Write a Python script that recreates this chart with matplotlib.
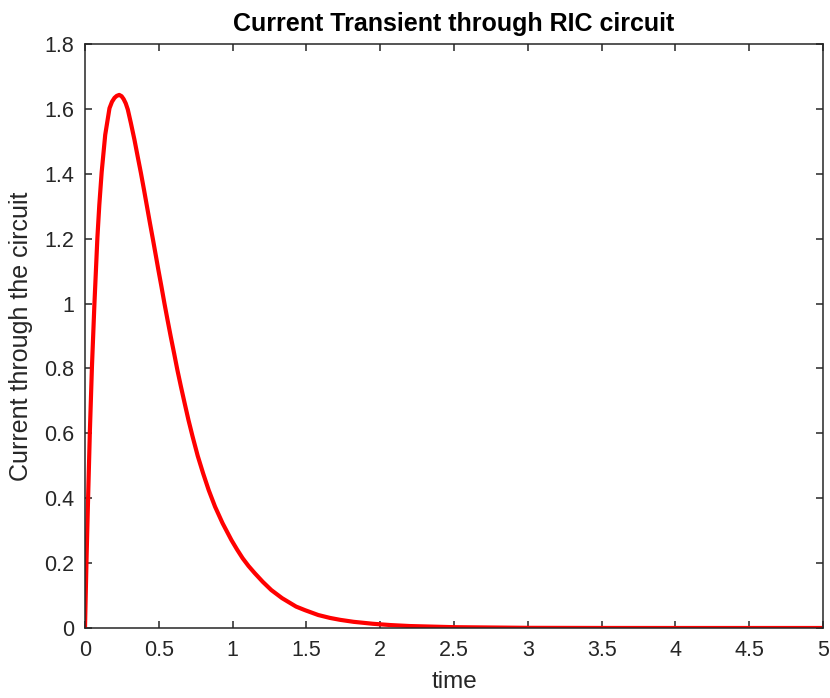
import matplotlib.pyplot as plt

plt.rcParams['font.family'] = ['Liberation Sans', 'DejaVu Sans']

# values
time = [0, 0.010, 0.021, 0.033, 0.047, 0.064, 0.084, 0.097, 0.113, 0.137,
        0.166, 0.183, 0.200, 0.215, 0.232, 0.248, 0.262, 0.276, 0.290, 0.311,
        0.335, 0.357, 0.379, 0.400, 0.420, 0.440, 0.461, 0.481, 0.497, 0.518,
        0.538, 0.559, 0.581, 0.604, 0.626, 0.650, 0.675, 0.701, 0.729, 0.764,
        0.800, 0.838, 0.881, 0.932, 0.992, 1.030, 1.068, 1.108, 1.150, 1.205,
        1.262, 1.335, 1.430, 1.490, 1.580, 1.660, 1.730, 1.820, 1.950, 2.070,
        2.200, 2.500, 3.000, 3.500, 4.000, 4.500, 5.000]
current = [0, 0.204, 0.400, 0.605, 0.804, 1.000, 1.203, 1.304, 1.405, 1.520,
           1.602, 1.622, 1.634, 1.640, 1.643, 1.639, 1.630, 1.617, 1.598, 1.556,
           1.505, 1.453, 1.402, 1.350, 1.299, 1.248, 1.196, 1.145, 1.104, 1.052,
           1.001, 0.950, 0.898, 0.846, 0.795, 0.744, 0.693, 0.641, 0.590, 0.530,
           0.477, 0.425, 0.374, 0.323, 0.271, 0.242, 0.215, 0.191, 0.169, 0.142,
           0.117, 0.092, 0.066, 0.055, 0.040, 0.031, 0.025, 0.019, 0.013, 0.009,
           0.006, 0.0025, 0.0005, 0.0001, 0, 0, 0]

xticks = [0, 0.5, 1, 1.5, 2, 2.5, 3, 3.5, 4, 4.5, 5]
xticklabels = ['0', '0.5', '1', '1.5', '2', '2.5', '3', '3.5', '4', '4.5', '5']
yticks = [0, 0.2, 0.4, 0.6, 0.8, 1, 1.2, 1.4, 1.6, 1.8]
yticklabels = ['0', '0.2', '0.4', '0.6', '0.8', '1', '1.2', '1.4', '1.6', '1.8']

fig = plt.figure(figsize=(8.3, 6.98), dpi=100)
ax = fig.add_axes([0.1024, 0.1003, 0.8892, 0.8367])

ax.plot(time, current, color='red', linewidth=3.0, solid_joinstyle='round')

ax.set_xlim(0, 5)
ax.set_ylim(0, 1.8)
ax.set_xticks(xticks)
ax.set_xticklabels(xticklabels)
ax.set_yticks(yticks)
ax.set_yticklabels(yticklabels)

# matlab style box: ticks inward on all four sides
ax.tick_params(direction='in', top=True, right=True, length=5, width=1.1,
               colors='#262626', labelsize=15.5)
ax.tick_params(axis='x', pad=9)
ax.tick_params(axis='y', pad=8)
for s in ax.spines.values():
    s.set_color('#262626')
    s.set_linewidth(1.1)

ax.set_xlabel('time', fontsize=17.5, color='#262626', labelpad=7)
ax.set_ylabel('Current through the circuit', fontsize=18, color='#262626', labelpad=8)
ax.set_title('Current Transient through RIC circuit', fontsize=18,
             fontweight='bold', color='#000000', pad=9)

fig.savefig('out.png', dpi=100)
